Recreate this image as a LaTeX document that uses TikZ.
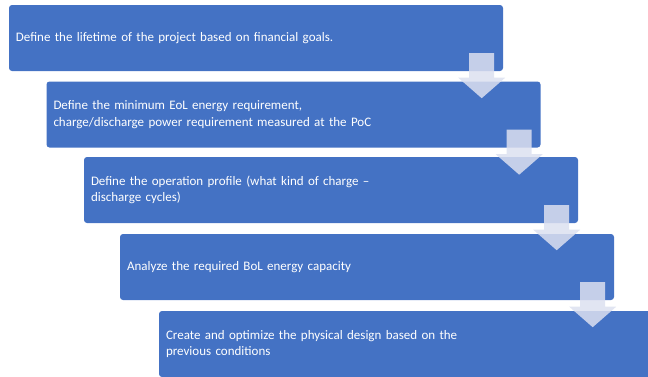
\documentclass[tikz,border=0pt]{standalone}
\usepackage{fontspec}
\setmainfont{Carlito}
\definecolor{boxblue}{RGB}{68,114,196}
\definecolor{arrowlav}{RGB}{220,224,240}
\begin{document}
\begin{tikzpicture}[x=1pt,y=-1pt,
  stepbox/.style={fill=boxblue, rounded corners=3pt, minimum width=494pt, minimum height=66pt,
    text width=480pt, inner xsep=7pt, inner ysep=0pt, align=left, text=white, font=\fontsize{13}{16.5}\selectfont},
  downarrow/.pic={\fill[arrowlav, fill opacity=0.85] (-12.5,-18) -- (12.5,-18) -- (12.5,6.5) -- (23.5,6.5) -- (0,27) -- (-23.5,6.5) -- (-12.5,6.5) -- cycle;}
]
\clip (0,0) rectangle (648,376);
\node[stepbox] (b1) at (256,38) {Define the lifetime of the project based on financial goals.};
\node[stepbox] (b2) at (293.5,114.5) {Define the minimum EoL energy requirement,\\charge/discharge power requirement measured at the PoC};
\node[stepbox] (b3) at (331,190) {Define the operation profile (what kind of charge --\\discharge cycles)};
\node[stepbox] (b4) at (367,267) {Analyze the required BoL energy capacity};
\node[stepbox] (b5) at (406,344) {Create and optimize the physical design based on the\\previous conditions};
\coordinate (a1) at ([xshift=-21.5pt]b1.south east);
\coordinate (a2) at ([xshift=-21.5pt]b2.south east);
\coordinate (a3) at ([xshift=-21.5pt]b3.south east);
\coordinate (a4) at ([xshift=-21.5pt]b4.south east);
\pic at (a1) {downarrow};
\pic at (a2) {downarrow};
\pic at (a3) {downarrow};
\pic at (a4) {downarrow};
\end{tikzpicture}
\end{document}
